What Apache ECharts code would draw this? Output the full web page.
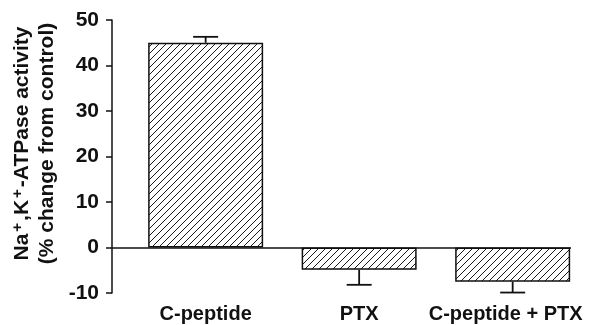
<!DOCTYPE html>
<html>
<head>
<meta charset="utf-8">
<script src="https://cdn.jsdelivr.net/npm/echarts@6/dist/echarts.min.js"></script>
<style>html,body{margin:0;padding:0;background:#fff;}#c{width:589px;height:325px;}</style>
</head>
<body>
<div id="c"></div>
<script>
const categories = ['C-peptide', 'PTX', 'C-peptide + PTX'];
const values = [45, -4.9, -7.5];
const errors = [1.3, 3.3, 2.4];
const yTicks = [-10, 0, 10, 20, 30, 40, 50];

function hatch() {
  const s = 7;
  const cv = document.createElement('canvas');
  cv.width = s; cv.height = s;
  const ctx = cv.getContext('2d');
  ctx.fillStyle = '#fff';
  ctx.fillRect(0, 0, s, s);
  ctx.strokeStyle = '#1a1a1a';
  ctx.lineWidth = 1;
  ctx.beginPath();
  ctx.moveTo(0, s); ctx.lineTo(s, 0);
  ctx.moveTo(-1, 1); ctx.lineTo(1, -1);
  ctx.moveTo(s - 1, s + 1); ctx.lineTo(s + 1, s - 1);
  ctx.stroke();
  return cv;
}

const FONT = "'Liberation Sans', Arial, Helvetica, sans-serif";
const chart = echarts.init(document.getElementById('c'), null, {renderer: 'canvas'});
const barData = categories.map((c, i) => [i, values[i]]);
const errData = categories.map((c, i) => [i, values[i], errors[i]]);

chart.setOption({
  animation: false,
  backgroundColor: '#fff',
  grid: {left: 112, right: 18, top: 20, bottom: 32, containLabel: false},
  xAxis: {
    type: 'value', min: -0.61, max: 2.38,
    axisLine: {show: false, onZero: false},
    axisTick: {show: false},
    splitLine: {show: false},
    axisLabel: {
      customValues: [0, 1, 2],
      margin: 11,
      color: '#111', fontFamily: FONT, fontWeight: 'bold', fontSize: 20,
      formatter: v => {
        const i = Math.round(v);
        return i === 2 ? '{s|' + categories[i] + '}' : categories[i];
      },
      rich: {s: {color: '#111', fontFamily: FONT, fontWeight: 'bold', fontSize: 20, padding: [0, 14, 0, 0]}}
    }
  },
  yAxis: {
    type: 'value', min: -10, max: 50, interval: 10,
    axisLine: {show: true, onZero: false, lineStyle: {color: '#111', width: 1.5}},
    axisTick: {show: true, length: 6, lineStyle: {color: '#111', width: 1.5}},
    splitLine: {show: false},
    axisLabel: {margin: 13, color: '#111', fontFamily: FONT, fontWeight: 'bold', fontSize: 21,
      customValues: yTicks},
    name: '{a|Na}{p|+}{a|,K}{p|+}{a|-ATPase activity}\n{a|(% change from control)}',
    nameLocation: 'middle',
    nameGap: 52,
    nameMoveOverlap: false,
    nameRotate: 90,
    nameTextStyle: {
      color: '#111', fontFamily: FONT, fontWeight: 'bold', fontSize: 21, lineHeight: 25,
      padding: [0, 0, 0, 26],
      rich: {
        a: {color: '#111', fontFamily: FONT, fontWeight: 'bold', fontSize: 21, lineHeight: 25},
        p: {color: '#111', fontFamily: FONT, fontWeight: 'bold', fontSize: 15, verticalAlign: 'top', lineHeight: 25, padding: [0, 2, 8, 2]}
      }
    }
  },
  series: [
    {
      type: 'bar',
      data: barData,
      barWidth: 115,
      itemStyle: {color: {image: hatch(), repeat: 'repeat'}, borderColor: '#111', borderWidth: 1.5},
      markLine: {
        silent: true, symbol: 'none', label: {show: false},
        lineStyle: {color: '#111', width: 1.5, type: 'solid'},
        data: [{yAxis: 0}]
      },
      z: 2
    },
    {
      type: 'custom',
      data: errData,
      z: 3,
      renderItem: (params, api) => {
        const x = api.value(0), v = api.value(1), e = api.value(2);
        const end = v >= 0 ? v + e : v - e;
        const p0 = api.coord([x, v]);
        const p1 = api.coord([x, end]);
        const half = 12.5;
        const style = {stroke: '#111', lineWidth: 1.8};
        return {
          type: 'group',
          children: [
            {type: 'line', shape: {x1: p0[0], y1: p0[1], x2: p1[0], y2: p1[1]}, style},
            {type: 'line', shape: {x1: p1[0] - half, y1: p1[1], x2: p1[0] + half, y2: p1[1]}, style}
          ]
        };
      }
    }
  ]
});
</script>
</body>
</html>
